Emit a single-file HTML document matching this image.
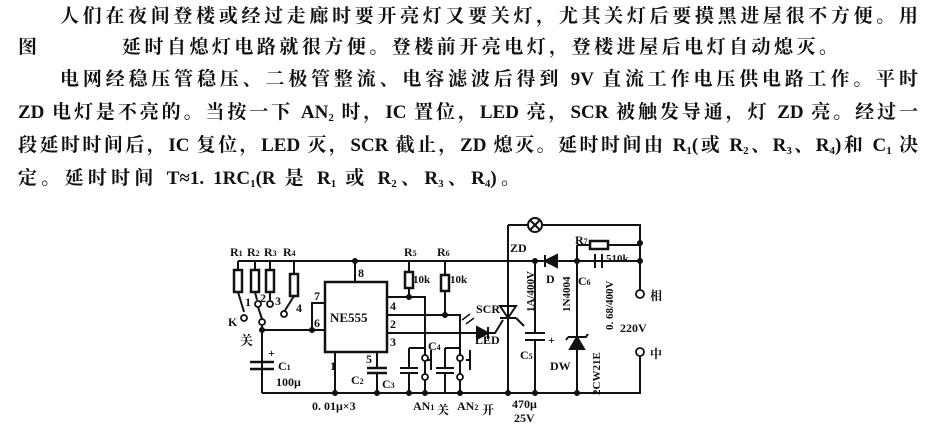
<!DOCTYPE html>
<html><head><meta charset="utf-8"><style>
html,body{margin:0;padding:0;background:#fff;}
body{width:932px;height:437px;position:relative;overflow:hidden;font-family:"Liberation Serif","Noto Serif CJK SC",serif;color:#111;}
.l{position:absolute;font-size:19px;line-height:24px;height:24px;font-weight:700;white-space:nowrap;overflow:visible;text-align:justify;text-align-last:justify;}
sub{font-size:11px;vertical-align:-3px;line-height:0;}
svg{position:absolute;left:0;top:0;}
svg text{font-family:"Liberation Serif","Noto Serif CJK SC",serif;font-weight:700;fill:#111;}
</style></head><body>
<div class="l" style="left:60px;top:5px;width:858px;">人们在夜间登楼或经过走廊时要开亮灯又要关灯，尤其关灯后要摸黑进屋很不方便。用</div>
<div class="l" style="left:18px;top:36px;width:24px;">图</div>
<div class="l" style="left:122px;top:36px;width:716px;">延时自熄灯电路就很方便。登楼前开亮电灯，登楼进屋后电灯自动熄灭。</div>
<div class="l" style="left:60px;top:68px;width:858px;">电网经稳压管稳压、二极管整流、电容滤波后得到 9V 直流工作电压供电路工作。平时</div>
<div class="l" style="left:18px;top:101px;width:900px;">ZD 电灯是不亮的。当按一下 AN<sub>2</sub> 时，IC 置位，LED 亮，SCR 被触发导通，灯 ZD 亮。经过一</div>
<div class="l" style="left:18px;top:134px;width:900px;">段延时时间后，IC 复位，LED 灭，SCR 截止，ZD 熄灭。延时时间由 R<sub>1</sub>(或 R<sub>2</sub>、R<sub>3</sub>、R<sub>4</sub>)和 C<sub>1</sub> 决</div>
<div class="l" style="left:18px;top:167px;width:502px;">定。延时时间 T≈1. 1RC<sub>1</sub>(R 是 R<sub>1</sub> 或 R<sub>2</sub>、R<sub>3</sub>、R<sub>4</sub>)。</div>

<svg width="932" height="437" viewBox="0 0 932 437" fill="none" stroke="#111" stroke-width="2">
<path d="M238 261H640"/>
<path d="M238 261V270M255 261V270M270 261V270M294 261V274"/>
<rect x="234" y="270" width="8" height="22" stroke-width="2.5"/>
<rect x="251" y="270" width="8" height="22" stroke-width="2.5"/>
<rect x="266" y="270" width="8" height="22" stroke-width="2.5"/>
<rect x="290" y="274" width="8" height="22" stroke-width="2.5"/>
<path d="M238 292L244 312M255 292L257 300M270 292V300M294 296L284 312"/>
<g fill="#fff" stroke-width="1.8"><circle cx="244" cy="318" r="3"/><circle cx="258" cy="304" r="3"/><circle cx="270" cy="304" r="3"/><circle cx="284" cy="314" r="3"/><circle cx="262" cy="322" r="3"/></g>
<path d="M262 319L258 307M262 325V393"/>
<path d="M262 330H325M325 303H312V330"/>
<circle cx="262" cy="330" r="2" fill="#111"/><circle cx="312" cy="330" r="2" fill="#111"/>
<path d="M250 362H274M250 369H274" stroke-width="2.5"/>
<path d="M262 393H640V356"/>
<rect x="325" y="282" width="62" height="70" stroke-width="2.5"/>
<path d="M355 261V282M335 352V393M377 352V368M377 372V393"/>
<path d="M367 368H387M367 373H387" stroke-width="2.5"/>
<circle cx="355" cy="261" r="2" fill="#111"/>
<path d="M409 261V272M409 288V297M445 261V275M445 291V315"/>
<rect x="405" y="272" width="8" height="16" stroke-width="2.5"/>
<rect x="441" y="275" width="8" height="16" stroke-width="2.5"/>
<path d="M387 297H425V393M387 315H460V393M387 333H477"/>
<circle cx="409" cy="297" r="2" fill="#111"/><circle cx="445" cy="315" r="2" fill="#111"/>
<path d="M409 348H425M409 348V368M400 368H418M400 373H418M409 373V393"/>
<path d="M445 348H460M445 348V368M436 368H454M436 373H454M445 373V393"/>
<g fill="#fff" stroke-width="1.8"><circle cx="425" cy="358" r="3"/><circle cx="425" cy="377" r="3"/><circle cx="460" cy="358" r="3"/><circle cx="460" cy="377" r="3"/></g>
<path d="M431 350V370M431 360H427M470 350V370M470 360H466"/>
<path d="M477 327V339L488 333Z" fill="#111"/><path d="M488 327V339M488 333H495L503 320"/>
<path d="M462 320L470 314M466 324L474 318" stroke-width="1.5"/>
<path d="M508 225V393M508 225H528M542 225H640V261"/>
<circle cx="535" cy="225" r="7"/><path d="M530 220L540 230M540 220L530 230"/>
<path d="M500 318H516M500 306L508 318L516 306Z"/>
<path d="M516 318L524 326"/>
<path d="M545 261L557 255V267Z" fill="#111"/><path d="M545 255V267"/>
<path d="M535 261V333M535 340V393M525 333H545M525 340H545"/>
<path d="M577 245V393M577 245H590M608 245H640M595 254V268M602 254V268"/>
<rect x="590" y="241" width="18" height="8" stroke-width="2.5"/>
<path d="M577 337L570 349H584Z" fill="#111"/><path d="M568 337H586L588 334M568 337L566 340"/>
<path d="M640 243V261V290"/>
<g fill="#fff" stroke-width="1.8"><circle cx="640" cy="294" r="4"/><circle cx="640" cy="352" r="4"/></g>
<g fill="#111"><circle cx="535" cy="261" r="2"/><circle cx="577" cy="261" r="2"/><circle cx="640" cy="243" r="2"/><circle cx="640" cy="261" r="2"/><circle cx="508" cy="393" r="2"/><circle cx="535" cy="393" r="2"/><circle cx="577" cy="393" r="2"/><circle cx="425" cy="393" r="2"/><circle cx="460" cy="393" r="2"/><circle cx="409" cy="393" r="2"/><circle cx="377" cy="393" r="2"/><circle cx="335" cy="393" r="2"/></g>
<g stroke="none" font-size="12">
<text x="230" y="256">R<tspan font-size="8">1</tspan></text>
<text x="247" y="256">R<tspan font-size="8">2</tspan></text>
<text x="264" y="256">R<tspan font-size="8">3</tspan></text>
<text x="283" y="256">R<tspan font-size="8">4</tspan></text>
<text x="245" y="306">1</text><text x="260" y="302">2</text><text x="275" y="305">3</text><text x="296" y="312">4</text>
<text x="228" y="326">K</text>
<text x="240" y="345" font-size="13">关</text>
<text x="268" y="357">+</text>
<text x="278" y="370">C<tspan font-size="8">1</tspan></text>
<text x="276" y="386">100μ</text>
<text x="358" y="277">8</text><text x="314" y="300">7</text><text x="314" y="327">6</text>
<text x="390" y="310">4</text><text x="390" y="328">2</text><text x="390" y="346">3</text>
<text x="366" y="363">5</text><text x="330" y="370">1</text>
<text x="330" y="322" font-size="13">NE555</text>
<text x="351" y="384">C<tspan font-size="8">2</tspan></text>
<text x="382" y="388">C<tspan font-size="8">3</tspan></text>
<text x="428" y="350">C<tspan font-size="8">4</tspan></text>
<text x="404" y="256">R<tspan font-size="8">5</tspan></text>
<text x="437" y="256">R<tspan font-size="8">6</tspan></text>
<text x="413" y="283" font-size="11">10k</text>
<text x="450" y="283" font-size="11">10k</text>
<text x="312" y="410">0. 01μ×3</text>
<text x="413" y="410">AN<tspan font-size="8">1</tspan></text><text x="437" y="414" font-size="12">关</text>
<text x="457" y="410">AN<tspan font-size="8">2</tspan></text><text x="482" y="414" font-size="12">开</text>
<text x="475" y="344">LED</text>
<text x="476" y="313">SCR</text>
<text x="510" y="252">ZD</text>
<text x="546" y="283">D</text>
<text x="578" y="285">C<tspan font-size="8">6</tspan></text>
<text x="575" y="244">R<tspan font-size="8">7</tspan></text>
<text x="606" y="262" font-size="11">510k</text>
<text x="650" y="300" font-size="12">相</text>
<text x="650" y="358" font-size="12">中</text>
<text x="620" y="332">220V</text>
<text x="520" y="359">C<tspan font-size="8">5</tspan></text>
<text x="548" y="344">+</text>
<text x="550" y="370">DW</text>
<text x="512" y="408">470μ</text>
<text x="514" y="422">25V</text>
<text transform="translate(534,312) rotate(-90)" font-size="11">1A/400V</text>
<text transform="translate(570,312) rotate(-90)" font-size="11">1N4004</text>
<text transform="translate(600,395) rotate(-90)" font-size="11">2CW21E</text>
<text transform="translate(613,330) rotate(-90)" font-size="11">0. 68/400V</text>
</g>
</svg>
</body></html>
